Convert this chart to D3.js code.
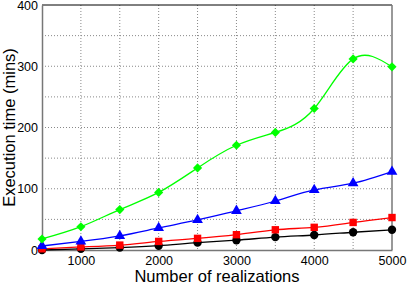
<!DOCTYPE html>
<html>
<head>
<meta charset="utf-8">
<script src="https://cdn.jsdelivr.net/npm/d3@7"></script>
<style>
  body { margin: 0; background: #fff; }
  text { font-family: "Liberation Sans", Arial, sans-serif; }
</style>
</head>
<body>
<div id="chart"></div>
<script>
// data
var realizations = [500, 1000, 1500, 2000, 2500, 3000, 3500, 4000, 4500, 5000];
var greenSeries = [18, 38, 66, 94, 134, 171, 192, 231, 312, 299];
var blueSeries = [6.5, 14, 23, 36, 49, 64, 80, 98, 109, 128];
var redSeries = [2, 5, 8, 14, 19, 25, 33, 37, 45, 53];
var blackSeries = [0, 2, 4, 7, 12, 16, 21, 24.5, 29, 33];
var xTicks = [1000, 2000, 3000, 4000, 5000];
var yTicks = [0, 100, 200, 300, 400];

var margin = { top: 5, right: 15, bottom: 35, left: 42 },
    width = 407 - margin.left - margin.right,
    height = 285 - margin.top - margin.bottom;

var svg = d3.select("#chart")
    .append("svg")
    .attr("width", 407)
    .attr("height", 285)
    .append("g")
    .attr("transform", "translate(" + margin.left + "," + margin.top + ")");

var x = d3.scaleLinear().domain([500, 5000]).range([0, width]);
var y = d3.scaleLinear().domain([0, 400]).range([height, 0]);

// dotted grid
svg.append("g")
    .selectAll("line")
    .data(d3.range(1000, 5000, 500))
    .enter().append("line")
    .attr("x1", d => x(d)).attr("x2", d => x(d))
    .attr("y1", 0).attr("y2", height)
    .attr("stroke", "#888").attr("stroke-dasharray", "1,2");
svg.append("g")
    .selectAll("line")
    .data(d3.range(50, 400, 50))
    .enter().append("line")
    .attr("x1", 0).attr("x2", width)
    .attr("y1", d => y(d)).attr("y2", d => y(d))
    .attr("stroke", "#888").attr("stroke-dasharray", "1,2");

// frame
svg.append("line").attr("x1", 0).attr("x2", width).attr("y1", 0).attr("y2", 0)
    .attr("stroke", "#000");
svg.append("line").attr("x1", width).attr("x2", width).attr("y1", 0).attr("y2", height)
    .attr("stroke", "#777").attr("stroke-width", 1.5);

// axes
var xAxis = svg.append("g")
    .attr("transform", "translate(0," + height + ")")
    .call(d3.axisBottom(x).tickValues(xTicks).tickFormat(d3.format("d")).tickSize(0).tickPadding(6));
var yAxis = svg.append("g")
    .call(d3.axisLeft(y).tickValues(yTicks).tickFormat(d3.format("d")).tickSize(0).tickPadding(4));
[xAxis, yAxis].forEach(a => {
    a.select(".domain").attr("stroke", "#777").attr("stroke-width", 1.5);
    a.selectAll("text").attr("font-size", 12.5).attr("fill", "#000")
        .style("font-family", "Liberation Sans, Arial, sans-serif");
});

// series
var series = [
    { values: blackSeries, color: "#000000", shape: d3.symbolCircle, size: 55, rot: 0 },
    { values: redSeries, color: "#ff0000", shape: d3.symbolSquare, size: 55, rot: 0 },
    { values: blueSeries, color: "#0000ff", shape: d3.symbolTriangle, size: 50, rot: 0 },
    { values: greenSeries, color: "#00ff00", shape: d3.symbolSquare, size: 42, rot: 45 }
];

var line = d3.line()
    .x(d => x(d[0]))
    .y(d => y(d[1]))
    .curve(d3.curveNatural);

series.forEach(s => {
    var pts = realizations.map((r, i) => [r, s.values[i]]);
    svg.append("path")
        .datum(pts)
        .attr("fill", "none")
        .attr("stroke", s.color)
        .attr("stroke-width", 1.3)
        .attr("d", line);
    svg.append("g")
        .selectAll("path")
        .data(pts)
        .enter().append("path")
        .attr("transform", d => "translate(" + x(d[0]) + "," + y(d[1]) + ") rotate(" + s.rot + ")")
        .attr("d", d3.symbol().type(s.shape).size(s.size))
        .attr("fill", s.color);
});

// axis titles
svg.append("text")
    .attr("x", width / 2)
    .attr("y", height + 32)
    .attr("text-anchor", "middle")
    .attr("font-size", 16.5)
    .text("Number of realizations");
svg.append("text")
    .attr("transform", "translate(" + (-27) + "," + (height / 2) + ") rotate(-90)")
    .attr("text-anchor", "middle")
    .attr("font-size", 16.5)
    .text("Execution time (mins)");
</script>
</body>
</html>
